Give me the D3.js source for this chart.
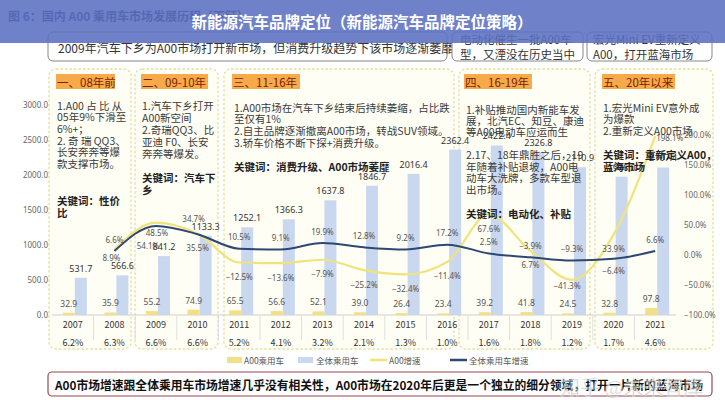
<!DOCTYPE html>
<html><head><meta charset="utf-8">
<script src="https://cdn.jsdelivr.net/npm/d3@7/dist/d3.min.js"></script>
<style>
body{margin:0;background:#fff}
svg{display:block}
text{font-family:"Noto Sans CJK SC","Noto Sans",sans-serif}
</style>
</head><body>
<svg id="c" width="725" height="400"></svg>
<script>
// ---------- data ----------
const years = ['2007','2008','2009','2010','2011','2012','2013','2014','2015','2016','2017','2018','2019','2020','2021'];
const a00Sales = [32.9,35.9,55.2,74.9,65.5,56.6,52.1,39.0,26.4,23.4,39.2,41.8,24.5,32.8,97.8];
const totalSales = [531.7,566.6,841.2,1133.3,1252.1,1366.3,1637.8,1846.7,2016.4,2362.4,2422.4,2326.8,2110.9,1976.0,2107.4];
const a00Growth = [null,8.9,54.1,35.5,-12.5,-13.6,-7.9,-25.2,-32.4,-11.4,67.6,6.7,-41.3,33.9,198.1];
const totalGrowth = [null,6.6,48.5,34.7,10.5,9.1,19.9,12.8,9.2,17.2,2.5,-3.9,-9.3,-6.4,6.6];
const a00Share = ['6.2%','6.3%','6.6%','6.6%','5.2%','4.1%','3.2%','2.1%','1.3%','1.0%','1.6%','1.8%','1.2%','1.7%','4.6%'];
const leftTicks = [0,500,1000,1500,2000,2500,3000];
const rightTicks = [-100,-50,0,50,100,150,200];
const legendNames = ['A00乘用车','全体乘用车','A00增速','全体乘用车增速'];

// ---------- styles / layout ----------
const C = {blueBar:'#c9d7ef', yellowBar:'#f3df86', yellowLine:'#efe37a', darkLine:'#2c4873',
           txt:'#3a3a3a', lab:'#444', axis:'#666'};
const svg = d3.select('#c');
svg.append('rect').attr('width',725).attr('height',400).attr('fill','#fff');

const x = d3.scaleBand().domain(years).range([52,676]);
const xs = d3.scaleBand().domain(['a00','total']).range([-10,14]);
const yL = d3.scaleLinear().domain([0,3000]).range([315,105]);
const yR = d3.scaleLinear().domain([-100,250]).range([315,105]);
const cx = d => x(d) + x.bandwidth()/2;

// ---------- panels ----------
const panels = [
 {x0:49,x1:131,hx:56,hw:59,head:'一、08年前',tx:57,lines:[
  ['1.A00 占 比 从',105],['05年9%下滑至',116.7],['6%+；',128.3],['2. 奇 瑞 QQ3、',140],['长安奔奔等爆',151.7],['款支撑市场。',163.3],
  ['关键词：性价',200,1],['比',212,1]]},
 {x0:135,x1:218,hx:141,hw:67,head:'二、09-10年',tx:142,lines:[
  ['1.汽车下乡打开',105],['A00新空间',117],['2.奇瑞QQ3、比',129.5],['亚迪 F0、长安',141.5],['奔奔等爆发。',153],
  ['关键词：汽车下',177,1],['乡',189,1]]},
 {x0:224,x1:454,hx:232,hw:68,head:'三、11-16年',tx:234,lines:[
  ['1.A00市场在汽车下乡结束后持续萎缩，占比跌',107],['至仅有1%',118.5],['2.自主品牌逐渐撤离A00市场，转战SUV领域。',130.5],['3.轿车价格不断下探+消费升级。',142],
  ['关键词：消费升级、A00市场萎靡',166,1]]},
 {x0:459,x1:590,hx:464,hw:68,head:'四、16-19年',tx:466,lines:[
  ['1.补贴推动国内新能车发',109],['展，北汽EC、知豆、康迪',120.5],['等A00电动车应运而生',131.5],['2.17、18年鼎胜之后，19',154],['年随着补贴退坡，A00电',166],['动车大洗牌，多款车型退',177.5],['出市场。',189],
  ['关键词：电动化、补贴',213,1]]},
 {x0:595,x1:713,hx:602,hw:73,head:'五、20年以来',tx:603,lines:[
  ['1.宏光Mini  EV意外成',107],['为爆款',118.5],['2.重新定义A00市场',130],
  ['关键词：重新定义A00，',154.5,1],['蓝海市场',166,1]]}
];
const pg = svg.append('g');
panels.forEach(p=>{
  pg.append('rect').attr('x',p.x0).attr('y',69).attr('width',p.x1-p.x0).attr('height',280).attr('rx',7)
    .attr('fill','#fffef5').attr('stroke','#e4df9c').attr('stroke-width',1.3).attr('stroke-dasharray','2.5,2');
  pg.append('rect').attr('x',p.hx).attr('y',74).attr('width',p.hw).attr('height',15).attr('fill','#f6aa4a');
  pg.append('text').attr('x',p.hx+1).attr('y',81.5).attr('dominant-baseline','central')
    .attr('font-size',11.5).attr('fill','#7a1e05').text(p.head);
});

// ---------- table ----------
svg.append('line').attr('x1',52).attr('x2',676).attr('y1',315).attr('y2',315).attr('stroke','#cfcfcf');
svg.selectAll('.sep').data(years.slice(1)).join('line').attr('class','sep')
  .attr('x1',d=>x(d)).attr('x2',d=>x(d)).attr('y1',315).attr('y2',340).attr('stroke','#dedede');
const xa = svg.append('g').attr('transform','translate(0,315)')
  .call(d3.axisBottom(x).tickSize(0).tickPadding(7));
xa.select('.domain').remove();
xa.selectAll('text').attr('font-size',9).attr('fill','#333').style('font-family','"Noto Sans CJK SC",sans-serif');
svg.selectAll('.share').data(years).join('text').attr('class','share')
  .attr('x',d=>cx(d)).attr('y',346).attr('text-anchor','middle').attr('font-size',9).attr('fill','#333')
  .text((d,i)=>a00Share[i]);

// ---------- bars ----------
svg.selectAll('.bt').data(years).join('rect').attr('class','bt')
  .attr('x',d=>cx(d)+xs('total')).attr('width',xs.bandwidth())
  .attr('y',(d,i)=>yL(totalSales[i])).attr('height',(d,i)=>yL(0)-yL(totalSales[i])).attr('fill',C.blueBar);
svg.selectAll('.ba').data(years).join('rect').attr('class','ba')
  .attr('x',d=>cx(d)+xs('a00')).attr('width',xs.bandwidth())
  .attr('y',(d,i)=>yL(a00Sales[i])).attr('height',(d,i)=>yL(0)-yL(a00Sales[i])).attr('fill',C.yellowBar);

// ---------- axes ----------
const la = svg.append('g').attr('transform','translate(48,0)')
  .call(d3.axisLeft(yL).tickValues(leftTicks).tickFormat(d3.format('.1f')).tickSize(0).tickPadding(0));
la.select('.domain').remove();
la.selectAll('text').attr('font-size',8).attr('fill',C.axis).style('font-family','"Noto Sans",sans-serif');
const ra = svg.append('g').attr('transform','translate(684,0)')
  .call(d3.axisRight(yR).tickValues(rightTicks).tickFormat(d=>d3.format('.1f')(d)+'%').tickSize(0).tickPadding(0));
ra.select('.domain').remove();
ra.selectAll('text').attr('font-size',8).attr('fill',C.axis).style('font-family','"Noto Sans",sans-serif');

// ---------- lines ----------
const line = d3.line().defined(d=>d.v!=null).x(d=>cx(d.y)).y(d=>yR(d.v)).curve(d3.curveMonotoneX);
svg.append('path').datum(years.map((y,i)=>({y,v:a00Growth[i]})))
  .attr('d',line).attr('fill','none').attr('stroke',C.yellowLine).attr('stroke-width',2.2);
svg.append('path').datum(years.map((y,i)=>({y,v:totalGrowth[i]})))
  .attr('d',line).attr('fill','none').attr('stroke',C.darkLine).attr('stroke-width',2);

// ---------- value labels ----------
svg.selectAll('.lt').data(years).join('text').attr('class','lt')
  .attr('x',d=>cx(d)+xs('total')+xs.bandwidth()/2).attr('y',(d,i)=>yL(totalSales[i])-6)
  .attr('text-anchor','middle').attr('font-size',9).attr('fill','#333').style('font-family','"Noto Sans",sans-serif')
  .text((d,i)=>d3.format('.1f')(totalSales[i]));
svg.selectAll('.la').data(years).join('text').attr('class','la')
  .attr('x',d=>cx(d)+xs('a00')+xs.bandwidth()/2).attr('y',(d,i)=>yL(a00Sales[i])-6)
  .attr('text-anchor','middle').attr('font-size',8.5).attr('fill','#555').style('font-family','"Noto Sans",sans-serif')
  .text((d,i)=>d3.format('.1f')(a00Sales[i]));

const tAdj = {'2009':[1,7],'2010':[-4,-16],'2020':[0,12]};
const aAdj = {'2008':[-3,8],'2009':[-8,23],'2019':[-5,6],'2021':[1,1,'start']};
const gl = (arr,adj,def,cls)=>{
  const pts = years.map((y,i)=>({y,v:arr[i]})).filter(d=>d.v!=null);
  svg.selectAll('.'+cls).data(pts).join('text').attr('class',cls)
    .attr('x',d=>cx(d.y)+(adj[d.y]?adj[d.y][0]:0))
    .attr('y',d=>yR(d.v)+(adj[d.y]?adj[d.y][1]:def))
    .attr('dominant-baseline','central')
    .attr('text-anchor',d=>adj[d.y]&&adj[d.y][2]?adj[d.y][2]:'middle')
    .attr('font-size',8).attr('fill','#555').style('font-family','"Noto Sans",sans-serif')
    .text(d=>d3.format('.1f')(d.v)+'%');
};
gl(totalGrowth,tAdj,-12,'gt');
gl(a00Growth,aAdj,14,'ga');

// ---------- panel texts ----------
panels.forEach(p=>{
  p.lines.forEach(l=>{
    svg.append('text').attr('x',p.tx).attr('y',l[1]).attr('dominant-baseline','central')
      .attr('font-size',10.5).attr('font-weight',l[2]?'bold':'normal').attr('fill',l[2]?'#222':C.txt).text(l[0]);
  });
});

// ---------- legend ----------
const lg = svg.append('g').attr('font-size',8.5).attr('fill','#555');
lg.append('rect').attr('x',227).attr('y',357).attr('width',15).attr('height',6).attr('fill',C.yellowBar);
lg.append('text').attr('x',244).attr('y',360).attr('dominant-baseline','central').text(legendNames[0]);
lg.append('rect').attr('x',298).attr('y',357).attr('width',15).attr('height',6).attr('fill',C.blueBar);
lg.append('text').attr('x',316).attr('y',360).attr('dominant-baseline','central').text(legendNames[1]);
lg.append('line').attr('x1',370).attr('x2',387).attr('y1',360).attr('y2',360).attr('stroke',C.yellowLine).attr('stroke-width',2.5);
lg.append('text').attr('x',389).attr('y',360).attr('dominant-baseline','central').text(legendNames[2]);
lg.append('line').attr('x1',450).attr('x2',467).attr('y1',360).attr('y2',360).attr('stroke',C.darkLine).attr('stroke-width',2.5);
lg.append('text').attr('x',469).attr('y',360).attr('dominant-baseline','central').text(legendNames[3]);

// ---------- bottom box ----------
svg.append('rect').attr('x',48).attr('y',372).attr('width',664).attr('height',24).attr('rx',4)
  .attr('fill','#fff').attr('stroke','#9a4848').attr('stroke-width',1.2);
svg.append('text').attr('x',55).attr('y',384.5).attr('dominant-baseline','central').attr('font-size',12)
  .attr('font-weight','bold').attr('fill','#111').attr('textLength',648).attr('lengthAdjust','spacingAndGlyphs')
  .text('A00市场增速跟全体乘用车市场增速几乎没有相关性，A00市场在2020年后更是一个独立的细分领域，打开一片新的蓝海市场');
svg.append('text').attr('x',560).attr('y',386).attr('dominant-baseline','central').attr('font-size',20)
  .attr('fill','rgba(150,150,150,0.45)').attr('stroke','rgba(255,255,255,0.5)').attr('stroke-width',0.8)
  .text('知乎 @未来智库');

// ---------- top boxes ----------
const tb = svg.append('g');
tb.append('rect').attr('x',48).attr('y',32).attr('width',399).attr('height',29).attr('rx',5).attr('fill','#fff').attr('stroke','#888');
tb.append('text').attr('x',58).attr('y',47).attr('dominant-baseline','central').attr('font-size',12).attr('fill','#333')
  .text('2009年汽车下乡为A00市场打开新市场，但消费升级趋势下该市场逐渐萎靡');
tb.append('rect').attr('x',452).attr('y',32).attr('width',131).attr('height',29).attr('rx',5).attr('fill','#fff').attr('stroke','#888');
tb.append('text').attr('x',460).attr('y',38.5).attr('dominant-baseline','central').attr('font-size',11.5).attr('fill','#333').text('电动化催生一批A00车');
tb.append('text').attr('x',460).attr('y',54).attr('dominant-baseline','central').attr('font-size',11.5).attr('fill','#333').text('型，又湮没在历史当中');
tb.append('rect').attr('x',587).attr('y',32).attr('width',125).attr('height',29).attr('rx',5).attr('fill','#fff').attr('stroke','#888');
tb.append('text').attr('x',593).attr('y',38.5).attr('dominant-baseline','central').attr('font-size',11.5).attr('fill','#333').text('宏光Mini EV重新定义');
tb.append('text').attr('x',593).attr('y',54).attr('dominant-baseline','central').attr('font-size',11.5).attr('fill','#333').text('A00，打开蓝海市场');

// ---------- banner ----------
svg.append('text').attr('x',8).attr('y',15).attr('dominant-baseline','central').attr('font-size',12)
  .attr('font-weight','bold').attr('fill','#27336a').text('图 6：国内 A00 乘用车市场发展历程（下钲）');
svg.append('rect').attr('x',0).attr('y',0).attr('width',725).attr('height',43).attr('fill','#5b70c0').attr('opacity',0.88);
svg.append('text').attr('x',362).attr('y',21).attr('text-anchor','middle').attr('dominant-baseline','central')
  .attr('font-size',15.5).attr('font-weight','bold').attr('fill','#fff').text('新能源汽车品牌定位（新能源汽车品牌定位策略）');
</script>
</body></html>
